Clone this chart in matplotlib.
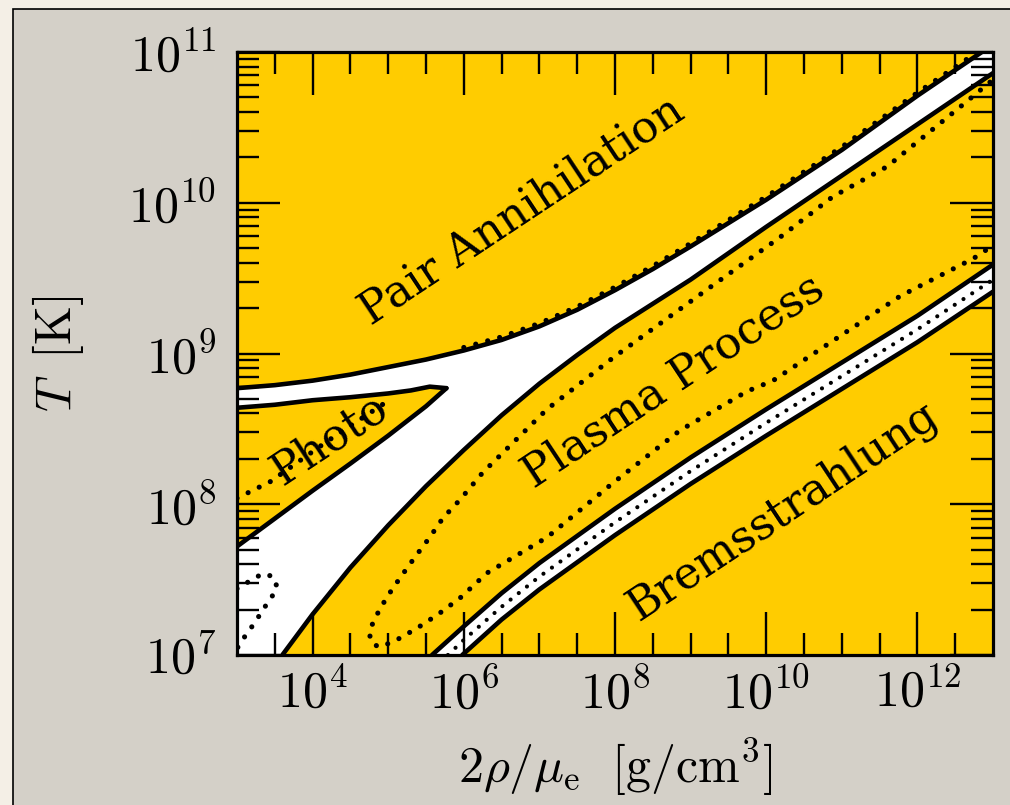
import numpy as np
import matplotlib.pyplot as plt
from matplotlib.patches import Rectangle
from matplotlib.ticker import FixedLocator, LogLocator, NullFormatter, FuncFormatter

plt.rcParams['mathtext.fontset'] = 'cm'

YELLOW = '#FFCC00'
PANEL = '#D4D0C8'
PAPER = '#F4EFE6'

# axis range, log10 units
x_lim = (3.0, 13.0)
y_lim = (7.0, 11.0)

# all curves below: log10(2 rho / mu_e), log10(T)
# lower edge of pair annihilation region
pair_lx = np.array([3.0, 3.5, 4.0, 4.5, 5.0, 5.5, 6.0, 6.5, 7.0, 7.5, 8.0, 8.5, 9.0, 10.0, 11.0, 12.0, 13.0])
pair_ly = np.array([8.77, 8.79, 8.82, 8.86, 8.91, 8.96, 9.02, 9.09, 9.18, 9.29, 9.42, 9.56, 9.71, 10.02, 10.35, 10.71, 11.05])
# dotted line running along the pair edge
pair_dot_lx = np.array([6.0, 6.5, 7.0, 7.5, 8.0, 8.5, 9.0, 10.0, 11.0, 12.0, 13.0])
pair_dot_ly = np.array([9.04, 9.11, 9.20, 9.31, 9.44, 9.58, 9.73, 10.04, 10.37, 10.73, 11.07])

# upper edge of plasma region
plasma_lx = np.array([3.6, 4.0, 4.5, 5.0, 5.5, 6.0, 6.5, 7.0, 7.5, 8.0, 9.0, 10.0, 11.0, 12.0, 13.0])
plasma_ly = np.array([7.0, 7.27, 7.58, 7.86, 8.12, 8.36, 8.59, 8.80, 8.99, 9.17, 9.49, 9.84, 10.18, 10.52, 10.86])

# photo-neutrino wedge
photo_up_lx = np.array([3.0, 3.5, 4.0, 4.5, 5.0, 5.3, 5.55, 5.77])
photo_up_ly = np.array([8.64, 8.66, 8.69, 8.71, 8.735, 8.755, 8.78, 8.77])
photo_lo_lx = np.array([5.77, 5.68, 5.5, 5.0, 4.5, 4.0, 3.5, 3.0])
photo_lo_ly = np.array([8.77, 8.73, 8.65, 8.455, 8.27, 8.09, 7.905, 7.72])
photo_dot_lx = np.array([3.0, 3.44, 4.2, 4.98])
photo_dot_ly = np.array([8.04, 8.15, 8.42, 8.68])

# dotted loop inside the plasma region
loop_lx = np.array([12.96, 12.60, 11.60, 10.88, 10.18, 9.26, 8.60, 7.97, 7.10, 6.25, 5.95, 5.725,
                    5.553, 5.355, 5.156, 4.984, 4.825, 4.759, 4.759, 4.865, 5.024, 5.183, 5.447,
                    5.685, 5.95, 6.307, 7.10, 7.97, 8.86, 9.75, 10.09, 11.77, 12.74, 12.92])
loop_ly = np.array([10.80, 10.65, 10.24, 10.04, 9.77, 9.44, 9.20, 8.97, 8.63, 8.21, 8.03, 7.909,
                    7.783, 7.65, 7.511, 7.385, 7.245, 7.166, 7.099, 7.053, 7.079, 7.119, 7.199,
                    7.279, 7.378, 7.544, 7.78, 8.14, 8.49, 8.75, 8.82, 9.38, 9.63, 9.69])

# bremsstrahlung boundary band
brems_mid_lx = np.array([5.79, 6.0, 6.5, 7.0, 7.5, 8.0, 8.5, 9.0, 10.0, 11.0, 12.0, 13.0])
brems_mid_ly = np.array([7.00, 7.10, 7.32, 7.52, 7.70, 7.88, 8.05, 8.22, 8.54, 8.85, 9.16, 9.49])
brems_up_lx = np.array([5.58, 6.0, 6.5, 7.0, 7.5, 8.0, 8.5, 9.0, 10.0, 11.0, 12.0, 13.0])
brems_up_ly = np.array([7.00, 7.19, 7.41, 7.61, 7.79, 7.97, 8.14, 8.31, 8.63, 8.94, 9.25, 9.59])
brems_lo_lx = np.array([5.98, 6.5, 7.0, 7.5, 8.0, 8.5, 9.0, 10.0, 11.0, 12.0, 13.0])
brems_lo_ly = np.array([7.00, 7.235, 7.435, 7.615, 7.795, 7.965, 8.135, 8.455, 8.765, 9.075, 9.41])

# small dotted loop, bottom left
small_lx = np.array([3.0, 3.2, 3.34, 3.48, 3.53, 3.46, 3.37, 3.28, 3.2, 3.1, 3.01, 2.98])
small_ly = np.array([7.44, 7.50, 7.54, 7.52, 7.45, 7.385, 7.32, 7.25, 7.19, 7.12, 7.05, 7.0])

labels = ['Pair Annihilation', 'Plasma Process', 'Bremsstrahlung', 'Photo']
label_lx = [6.76, 8.77, 10.22, 4.23]
label_ly = [9.95, 8.82, 7.96, 8.43]

fig = plt.figure(figsize=(10.1, 8.05), dpi=100, facecolor=PAPER)
fig.patches.append(Rectangle((13 / 1010, -0.01), 1.0, 1 - 9 / 805 + 0.01, transform=fig.transFigure,
                             facecolor=PANEL, edgecolor='black', lw=1.2, zorder=-5))

ax = fig.add_axes([237 / 1010, 150 / 805, 756 / 1010, 603 / 805])
ax.set_xscale('log')
ax.set_yscale('log')
ax.set_facecolor(YELLOW)
ax.set_xlim(10 ** x_lim[0], 10 ** x_lim[1])
ax.set_ylim(10 ** y_lim[0], 10 ** y_lim[1])

# white gap between pair, photo and plasma regions
gap_lx = np.concatenate([[x_lim[0]], pair_lx, plasma_lx[::-1]])
gap_ly = np.concatenate([[y_lim[0]], pair_ly, plasma_ly[::-1]])
ax.fill(10 ** gap_lx, 10 ** gap_ly, color='white', lw=0, zorder=1)
ax.fill(10 ** np.concatenate([photo_up_lx, photo_lo_lx]), 10 ** np.concatenate([photo_up_ly, photo_lo_ly]),
        color=YELLOW, lw=0, zorder=1.1)
ax.fill(10 ** np.concatenate([brems_up_lx, brems_lo_lx[::-1]]), 10 ** np.concatenate([brems_up_ly, brems_lo_ly[::-1]]),
        color='white', lw=0, zorder=1)

solid = dict(color='black', lw=3.3, solid_capstyle='round', solid_joinstyle='round', zorder=2)
dotted = dict(color='black', lw=3.7, ls=(0, (0.01, 2.4)), dash_capstyle='round', zorder=2)

ax.plot(10 ** pair_lx, 10 ** pair_ly, **solid)
ax.plot(10 ** pair_dot_lx, 10 ** pair_dot_ly, **dotted)
ax.plot(10 ** plasma_lx, 10 ** plasma_ly, **solid)
ax.plot(10 ** photo_up_lx, 10 ** photo_up_ly, **solid)
ax.plot(10 ** photo_lo_lx, 10 ** photo_lo_ly, **solid)
ax.plot(10 ** photo_dot_lx, 10 ** photo_dot_ly, **dotted)
ax.plot(10 ** loop_lx, 10 ** loop_ly, **dotted)
ax.plot(10 ** small_lx, 10 ** small_ly, **dotted)
ax.plot(10 ** brems_up_lx, 10 ** brems_up_ly, **solid)
ax.plot(10 ** brems_lo_lx, 10 ** brems_lo_ly, **solid)
ax.plot(10 ** brems_mid_lx, 10 ** brems_mid_ly, color='black', lw=3.0, ls=(0, (0.01, 2.5)),
        dash_capstyle='round', zorder=2)

for txt, lx, ly in zip(labels, label_lx, label_ly):
    ax.text(10 ** lx, 10 ** ly, txt, rotation=33.5, rotation_mode='anchor', ha='center', va='center',
            fontsize=32, family='DejaVu Serif', zorder=3)

# ticks
ax.xaxis.set_major_locator(FixedLocator([1e4, 1e6, 1e8, 1e10, 1e12]))
ax.xaxis.set_minor_locator(FixedLocator(10 ** np.array([3.5, 4.5, 5, 5.5, 6.5, 7, 7.5, 8.5, 9, 9.5,
                                                         10.5, 11, 11.5, 12.5])))
ax.yaxis.set_major_locator(LogLocator(base=10, numticks=10))
ax.yaxis.set_minor_locator(LogLocator(base=10, subs=np.arange(2, 10), numticks=20))
pow_fmt = FuncFormatter(lambda v, pos: r'$10^{%d}$' % round(np.log10(v)))
ax.xaxis.set_major_formatter(pow_fmt)
ax.yaxis.set_major_formatter(pow_fmt)
ax.xaxis.set_minor_formatter(NullFormatter())
ax.yaxis.set_minor_formatter(NullFormatter())
ax.tick_params(which='both', direction='in', top=True, right=True, width=1.7, labelsize=36)
ax.tick_params(which='major', length=31, pad=10)
ax.tick_params(which='minor', length=16)
ax.tick_params(axis='y', which='major', pad=15)
for s in ax.spines.values():
    s.set_linewidth(2.3)
    s.set_zorder(4)

ax.set_xlabel(r'$2\rho/\mu_{\mathrm{e}}\ \ [\mathrm{g/cm}^3]$', fontsize=36)
ax.set_ylabel(r'$T\;\;[\mathrm{K}]$', fontsize=36)
ax.xaxis.set_label_coords(0.5, -0.135)
ax.yaxis.set_label_coords(-0.20, 0.5)

fig.savefig('out.png', dpi=100, facecolor=PAPER)
